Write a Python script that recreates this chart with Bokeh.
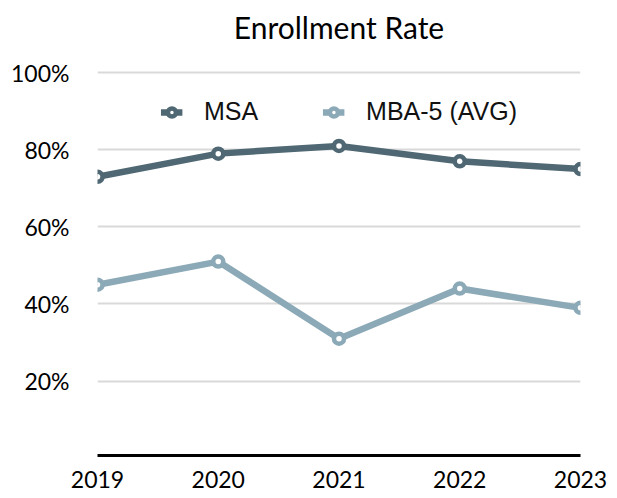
from bokeh.plotting import figure
from bokeh.models import Range1d, FixedTicker, PrintfTickFormatter, Legend, LegendItem
from bokeh.embed import file_html
from bokeh.resources import INLINE

years = [2019, 2020, 2021, 2022, 2023]
msa = [73, 79, 81, 77, 75]
mba5 = [45, 51, 31, 44, 39]
y_ticks = [20, 40, 60, 80, 100]

c_msa = "#4F6873"
c_mba = "#8BA9B6"

p = figure(width=617, height=498, output_backend="svg", toolbar_location=None,
           x_range=Range1d(2019, 2023), y_range=Range1d(0.7, 105.75),
           min_border_left=97, min_border_right=37, min_border_top=50, min_border_bottom=43,
           title="Enrollment Rate")
p.outline_line_color = None
p.background_fill_color = "white"
p.border_fill_color = "white"

p.title.align = "center"
p.title.text_font = "Lato"
p.title.text_font_size = "30px"
p.title.text_font_style = "normal"
p.title.text_color = "black"
p.title.standoff = 12

# axes
p.xaxis.ticker = FixedTicker(ticks=years)
p.xaxis.major_tick_line_color = None
p.xaxis.major_tick_out = 0
p.xaxis.major_tick_in = 0
p.xaxis.minor_tick_line_color = None
p.xaxis.axis_line_color = "black"
p.xaxis.axis_line_width = 3
p.xaxis.major_label_text_font = "Lato"
p.xaxis.major_label_text_font_size = "23px"
p.xaxis.major_label_text_color = "black"
p.xaxis.major_label_standoff = 15

p.yaxis.ticker = FixedTicker(ticks=y_ticks)
p.yaxis.formatter = PrintfTickFormatter(format="%d%%")
p.yaxis.major_tick_line_color = None
p.yaxis.major_tick_out = 0
p.yaxis.major_tick_in = 0
p.yaxis.minor_tick_line_color = None
p.yaxis.axis_line_color = None
p.yaxis.major_label_text_font = "Lato"
p.yaxis.major_label_text_font_size = "23px"
p.yaxis.major_label_text_color = "black"
p.yaxis.major_label_standoff = 28

p.xgrid.grid_line_color = None
p.ygrid.ticker = FixedTicker(ticks=y_ticks)
p.ygrid.grid_line_color = "#D9D9D9"
p.ygrid.grid_line_width = 2

l1 = p.line(years, msa, line_color=c_msa, line_width=6.5)
l2 = p.line(years, mba5, line_color=c_mba, line_width=6.5)
m1 = p.scatter(years, msa, size=10, fill_color="white", line_color=c_msa, line_width=4.5)
m2 = p.scatter(years, mba5, size=10, fill_color="white", line_color=c_mba, line_width=4.5)

legend = Legend(items=[LegendItem(label="MSA", renderers=[l1, m1]),
                       LegendItem(label="MBA-5 (AVG)", renderers=[l2, m2])],
                location="top_center", orientation="horizontal",
                label_text_font="Liberation Sans", label_text_font_size="25px",
                label_text_color="#111111",
                glyph_width=22, glyph_height=20, label_standoff=22, spacing=64,
                border_line_color=None, background_fill_alpha=0, margin=47, padding=0)
p.add_layout(legend, "center")

open("out.html", "w").write(file_html(p, INLINE))
